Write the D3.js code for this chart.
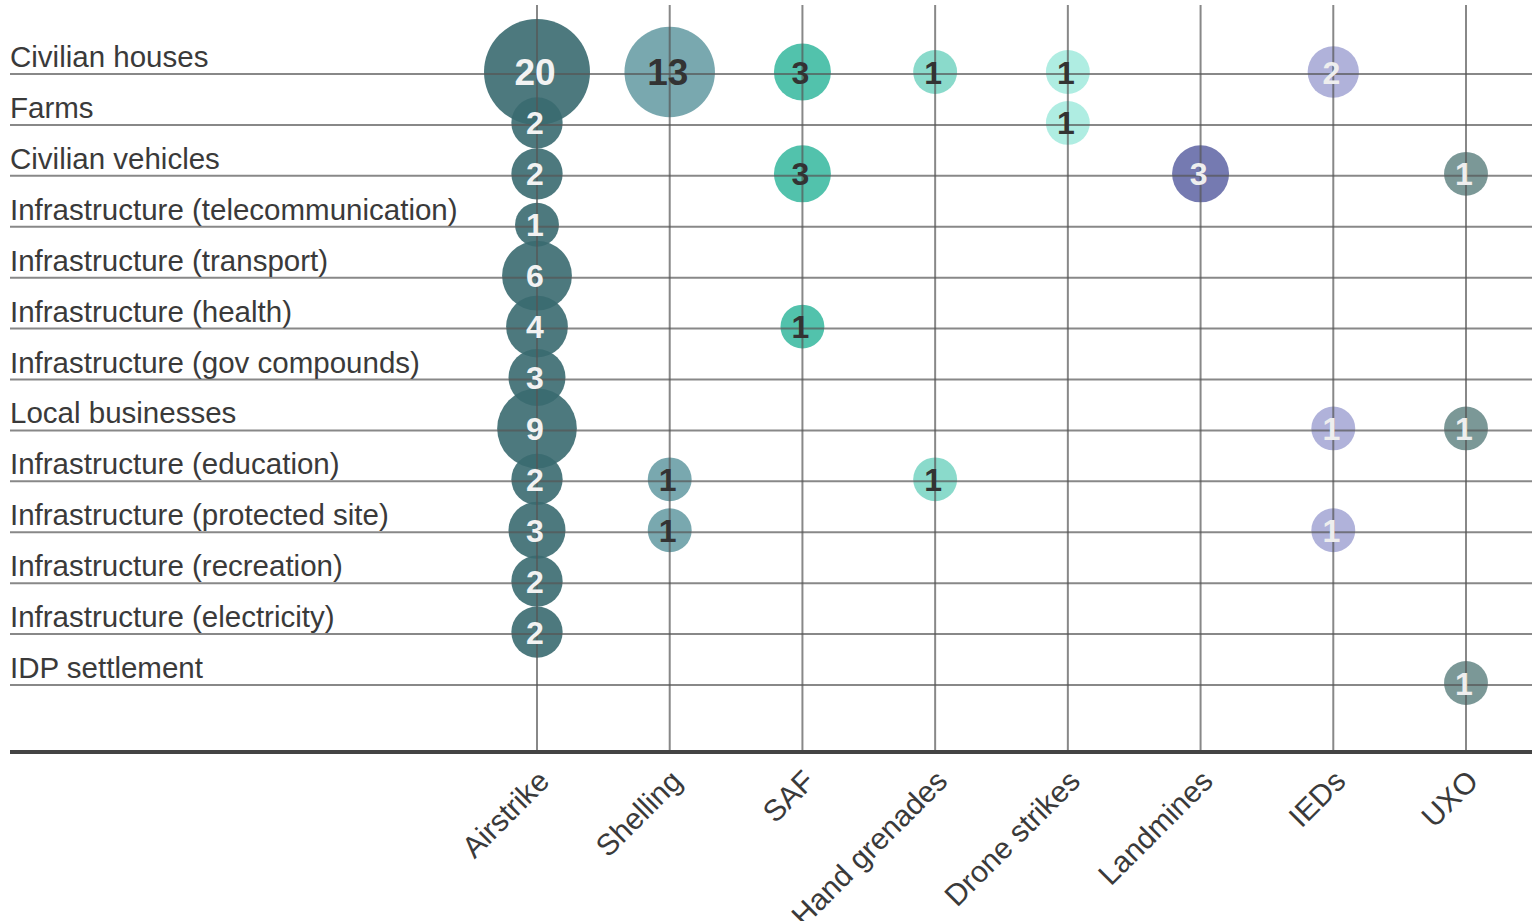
<!DOCTYPE html>
<html>
<head>
<meta charset="utf-8">
<script src="https://cdn.jsdelivr.net/npm/d3@7"></script>
<style>
body{margin:0;background:#fff;}
svg text{font-family:"Liberation Sans",Arial,Helvetica,sans-serif;}
</style>
</head>
<body>
<div id="chart"></div>
<script>
// rows (targets)
const targets = ["Civilian houses","Farms","Civilian vehicles","Infrastructure (telecommunication)",
  "Infrastructure (transport)","Infrastructure (health)","Infrastructure (gov compounds)","Local businesses",
  "Infrastructure (education)","Infrastructure (protected site)","Infrastructure (recreation)",
  "Infrastructure (electricity)","IDP settlement"];
// columns (methods)
const methods = ["Airstrike","Shelling","SAF","Hand grenades","Drone strikes","Landmines","IEDs","UXO"];
// counts per method, one value per target (0 = none)
const airstrike    = [20,2,2,1,6,4,3,9,2,3,2,2,0];
const shelling     = [13,0,0,0,0,0,0,0,1,1,0,0,0];
const saf          = [3,0,3,0,0,1,0,0,0,0,0,0,0];
const handGrenades = [1,0,0,0,0,0,0,0,1,0,0,0,0];
const droneStrikes = [1,1,0,0,0,0,0,0,0,0,0,0,0];
const landmines    = [0,0,3,0,0,0,0,0,0,0,0,0,0];
const ieds         = [2,0,0,0,0,0,0,1,0,1,0,0,0];
const uxo          = [0,0,1,0,0,0,0,1,0,0,0,0,1];

const series = [airstrike,shelling,saf,handGrenades,droneStrikes,landmines,ieds,uxo];
const fills = ["#3a6a70","#6a9ea6","#3fbba3","#7dd6c5","#a6ebdf","#666ca8","#a7aad6","#6d8d8c"];
const textCol = ["#f2f2f2","#333","#333","#333","#333","#eee","#eee","#eee"];

const W = 1535, H = 921;
const svg = d3.select("#chart").append("svg").attr("width",W).attr("height",H);

let y = d3.scalePoint().domain(targets).range([74,685]);
let x = d3.scalePoint().domain(methods).range([537,1466]);
let r = d3.scaleSqrt().domain([0,20]).range([13,53]);
const baseY = 752;

let cells = [];
series.forEach((vals,j) => vals.forEach((v,i) => { if(v>0) cells.push({m:methods[j],t:targets[i],v:v,j:j}); }));

// row labels
svg.append("g").selectAll("text").data(targets).enter().append("text")
  .attr("x",10).attr("y",d => y(d)-7)
  .attr("font-size","29.5px").attr("fill","#3a3a3a").text(d => d);

// bubbles
svg.append("g").selectAll("circle").data(cells).enter().append("circle")
  .attr("cx",d => x(d.m)).attr("cy",d => y(d.t)-2).attr("r",d => r(d.v))
  .attr("fill",d => fills[d.j]).attr("fill-opacity",0.9);

// grid on top of bubbles
let grid = svg.append("g").attr("stroke","#555").attr("stroke-opacity",0.7).attr("stroke-width",2);
grid.selectAll("line.h").data(targets).enter().append("line").attr("class","h")
  .attr("x1",10).attr("x2",1532).attr("y1",d => y(d)).attr("y2",d => y(d));
grid.selectAll("line.v").data(methods).enter().append("line").attr("class","v")
  .attr("x1",d => x(d)).attr("x2",d => x(d)).attr("y1",5).attr("y2",baseY);

// values
svg.append("g").selectAll("text").data(cells).enter().append("text")
  .attr("x",d => x(d.m)-2).attr("y",d => y(d.t)-2).attr("dy","0.36em")
  .attr("text-anchor","middle").attr("font-weight","bold")
  .attr("font-size",d => d.v>=10 ? "37px" : "32px")
  .attr("fill",d => textCol[d.j]).text(d => d.v);

// baseline axis
svg.append("line").attr("x1",10).attr("x2",1532).attr("y1",baseY).attr("y2",baseY)
  .attr("stroke","#444").attr("stroke-width",4);

// method labels
svg.append("g").selectAll("text").data(methods).enter().append("text")
  .attr("text-anchor","end")
  .attr("transform",d => "translate("+(x(d)+14)+","+(baseY+31)+") rotate(-45)")
  .attr("font-size","30px").attr("fill","#3a3a3a").text(d => d);
</script>
</body>
</html>
